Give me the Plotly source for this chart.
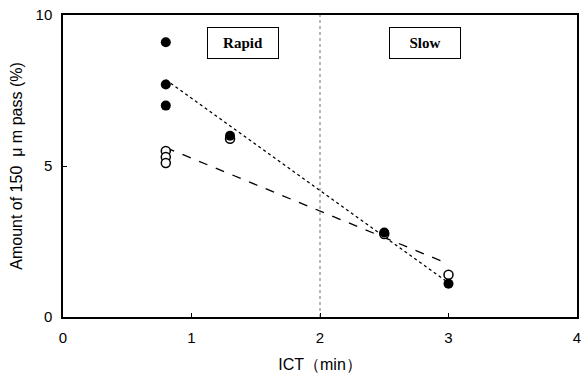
import numpy as np
import plotly.graph_objects as go

# Data
ict_filled = [0.8, 0.8, 0.8, 1.3, 2.5, 3.0]
pass_filled = [9.1, 7.7, 7.0, 6.0, 2.8, 1.1]
ict_open = [0.8, 0.8, 0.8, 1.3, 2.5, 3.0]
pass_open = [5.5, 5.3, 5.1, 5.9, 2.75, 1.4]
boundary_x = 2.0
x_ticks = [0, 1, 2, 3, 4]
y_ticks = [0, 5, 10]

fig = go.Figure()

# regression lines
for xs, ys, dash in [(ict_filled, pass_filled, "dot"), (ict_open, pass_open, "dash")]:
    m, b = np.polyfit(xs, ys, 1)
    xr = [min(xs), max(xs)]
    fig.add_trace(go.Scatter(x=xr, y=[m * v + b for v in xr], mode="lines",
                             line=dict(color="black", width=1.3, dash=dash),
                             showlegend=False, hoverinfo="skip"))

fig.add_trace(go.Scatter(x=ict_open, y=pass_open, mode="markers",
                         marker=dict(symbol="circle", size=9, color="white",
                                     line=dict(color="black", width=1.5)),
                         showlegend=False))
fig.add_trace(go.Scatter(x=ict_filled, y=pass_filled, mode="markers",
                         marker=dict(symbol="circle", size=10, color="black"),
                         showlegend=False))

fig.add_shape(type="line", x0=boundary_x, x1=boundary_x, y0=0, y1=10,
              xref="x", yref="y", line=dict(color="#333", width=0.7, dash="dot"))

for label, xc in [("Rapid", 1.4), ("Slow", 2.82)]:
    fig.add_annotation(x=xc, y=9.08, xref="x", yref="y", text="<b>%s</b>" % label,
                       showarrow=False, font=dict(family="Liberation Serif", size=15, color="black"),
                       bordercolor="black", borderwidth=1, borderpad=0,
                       width=70, height=30, bgcolor="white", yanchor="middle")

axis_common = dict(showline=True, linecolor="black", linewidth=1.5, mirror=True,
                   ticks="inside", ticklen=4, tickcolor="black", showgrid=False,
                   zeroline=False, automargin=False,
                   tickfont=dict(family="Liberation Sans", size=15, color="black"))

fig.update_xaxes(range=[0, 4], tickvals=x_ticks, ticklabelstandoff=6,
                 title=dict(text="ICT（min）", standoff=14,
                            font=dict(family="Liberation Sans", size=16, color="black")),
                 **axis_common)
fig.update_yaxes(range=[0, 10], tickvals=y_ticks, ticklabelstandoff=6,
                 title=dict(text="Amount of 150  μ m pass (%)", standoff=9,
                            font=dict(family="Liberation Sans", size=16, color="black")),
                 **axis_common)

fig.update_layout(width=583, height=378, margin=dict(l=63, r=6, t=15, b=61),
                  plot_bgcolor="white", paper_bgcolor="white")

fig.write_html("out.html", config={"displayModeBar": False},
               post_script="document.body.style.margin='0';document.body.style.overflow='hidden';")
